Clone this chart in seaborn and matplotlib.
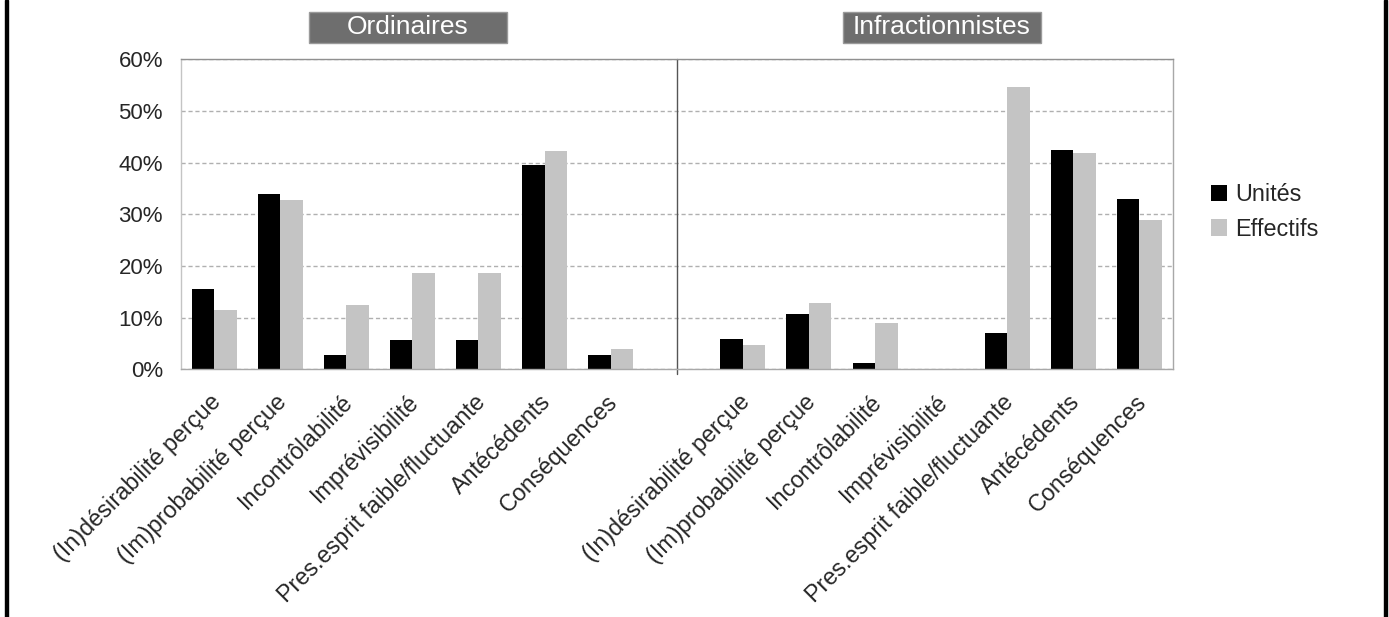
import numpy as np
import pandas as pd
import matplotlib.pyplot as plt
import matplotlib.transforms as mtransforms
from matplotlib.patches import Rectangle
import seaborn as sns

categories = ["(In)désirabilité perçue", "(Im)probabilité perçue", "Incontrôlabilité",
              "Imprévisibilité", "Pres.esprit faible/fluctuante", "Antécédents", "Conséquences"]
groups = ["Ordinaires", "Infractionnistes"]
series = ["Unités", "Effectifs"]

# values in %
ordinaires_unites = [15.5, 33.9, 2.7, 5.7, 5.7, 39.5, 2.7]
ordinaires_effectifs = [11.5, 32.7, 12.5, 18.7, 18.7, 42.3, 3.9]
infraction_unites = [5.8, 10.7, 1.2, 0.0, 7.1, 42.4, 33.0]
infraction_effectifs = [4.7, 12.8, 9.0, 0.0, 54.6, 41.9, 28.9]

rows = []
for grp, unites, effectifs in [(groups[0], ordinaires_unites, ordinaires_effectifs),
                               (groups[1], infraction_unites, infraction_effectifs)]:
    for cat, u, e in zip(categories, unites, effectifs):
        rows.append({'key': grp + '|' + cat, 'serie': series[0], 'value': u})
        rows.append({'key': grp + '|' + cat, 'serie': series[1], 'value': e})
df = pd.DataFrame(rows)

# empty slot between the two groups
order = [groups[0] + '|' + c for c in categories] + ['gap'] + [groups[1] + '|' + c for c in categories]

sns.set_style('white')
plt.rcParams['font.family'] = ['Liberation Sans', 'DejaVu Sans']

W, H = 1389, 617
fig = plt.figure(figsize=(W / 100, H / 100), dpi=100)
ax = fig.add_axes([181 / W, 1 - 369.4 / H, (1172.5 - 181) / W, (369.4 - 59.3) / H])

sns.barplot(data=df, x='key', y='value', hue='serie', order=order, hue_order=series,
            palette=['#000000', '#c4c4c4'], width=0.68, saturation=1, linewidth=0, ax=ax)

ax.set_xlim(-0.5, 14.5)
ax.set_ylim(0, 60)
ax.set_xlabel('')
ax.set_ylabel('')

# y axis
ax.set_yticks(np.arange(0, 61, 10))
ax.set_yticklabels([f'{v}%' for v in range(0, 61, 10)], fontsize=16)
ax.tick_params(axis='y', length=8, width=1, color='#a0a0a0', pad=5)
ax.set_axisbelow(True)
ax.yaxis.grid(True, linestyle=(0, (3, 2)), color='#b0b0b0', linewidth=1)

# x axis: marks at slot boundaries, labels at slot centres
ax.set_xticks(np.arange(-0.5, 15, 1))
ax.set_xticklabels([])
centers = list(range(0, 7)) + list(range(8, 15))
ax.set_xticks(centers, minor=True)
ax.set_xticklabels(categories + categories, minor=True, rotation=45, ha='right',
                   va='top', rotation_mode='anchor', fontsize=16.8)
ax.tick_params(axis='x', which='major', length=9, width=1, color='#a8a8a8')
ax.tick_params(axis='x', which='minor', length=0, pad=15)
shift = mtransforms.ScaledTranslation(-5 / 100, 0, fig.dpi_scale_trans)
for lbl in ax.get_xticklabels(minor=True):
    lbl.set_transform(lbl.get_transform() + shift)

for side, col in [('left', '#c4c4c4'), ('bottom', '#a8a8a8'), ('top', '#909090'), ('right', '#a8a8a8')]:
    ax.spines[side].set_visible(True)
    ax.spines[side].set_color(col)
    ax.spines[side].set_linewidth(1)

# divider between groups
ax.axvline(7, ymin=-5 / 310, ymax=1, clip_on=False, color='#555555', linewidth=1)

# group titles
for name, x0, x1 in [(groups[0], 309.3, 506.7), (groups[1], 843, 1041)]:
    fig.add_artist(Rectangle((x0 / W, 1 - 43.3 / H), (x1 - x0) / W, 31.6 / H,
                             transform=fig.transFigure, facecolor='#6e6e6e',
                             edgecolor='#9a9a9a', linewidth=1))
    fig.text((x0 + x1) / 2 / W, 1 - 27.5 / H, name, color='white', fontsize=19,
             ha='center', va='center')

# legend
handles, labels = ax.get_legend_handles_labels()
ax.legend(handles, labels, loc='center left', bbox_to_anchor=(1211 / W, 1 - 212 / H),
          bbox_transform=fig.transFigure, frameon=False, fontsize=16.8,
          handlelength=0.7, handleheight=0.7, handletextpad=0.35, labelspacing=0.5,
          borderpad=0, borderaxespad=0)

# frame lines at the picture edges
fig.add_artist(Rectangle((5 / W, 0), 3 / W, 1, transform=fig.transFigure, color='black'))
fig.add_artist(Rectangle((1384 / W, 0), 3 / W, 1, transform=fig.transFigure, color='black'))

fig.savefig('out.png', dpi=100, facecolor='white')
